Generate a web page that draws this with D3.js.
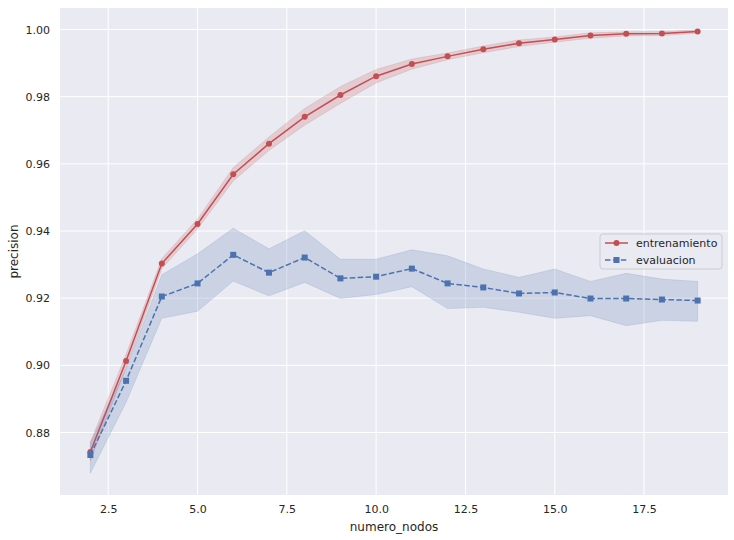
<!DOCTYPE html>
<html><head><meta charset="utf-8">
<script src="https://cdn.jsdelivr.net/npm/d3@7"></script>
<style>body{margin:0;background:#fff}text{font-family:"DejaVu Sans",sans-serif;fill:#262626}</style>
</head><body><svg id="c" width="734" height="540"></svg>
<script>
const nodos = [2,3,4,5,6,7,8,9,10,11,12,13,14,15,16,17,18,19];
const entrenamiento = [0.8742,0.9013,0.9303,0.9421,0.9569,0.9660,0.9740,0.9805,0.9861,0.9897,0.9920,0.9941,0.9959,0.9970,0.9982,0.9987,0.9988,0.9994];
const entrenamientoLow = [0.8715,0.8993,0.9288,0.9406,0.9549,0.9640,0.9715,0.9780,0.9841,0.9882,0.9910,0.9931,0.9949,0.9962,0.9974,0.9981,0.9982,0.9989];
const entrenamientoHigh = [0.8772,0.9033,0.9318,0.9436,0.9589,0.9680,0.9765,0.9830,0.9881,0.9912,0.9930,0.9951,0.9969,0.9978,0.9990,0.9993,0.9994,0.9999];
const evaluacion = [0.8733,0.8954,0.9205,0.9244,0.9329,0.9276,0.9321,0.9259,0.9264,0.9288,0.9244,0.9232,0.9214,0.9217,0.9199,0.9199,0.9196,0.9193];
const evaluacionLow = [0.8679,0.8890,0.9140,0.9161,0.9251,0.9207,0.9247,0.9199,0.9211,0.9234,0.9169,0.9173,0.9158,0.9140,0.9148,0.9118,0.9134,0.9131];
const evaluacionHigh = [0.8770,0.8990,0.9270,0.9332,0.9408,0.9347,0.9401,0.9316,0.9316,0.9344,0.9326,0.9287,0.9262,0.9287,0.9250,0.9274,0.9257,0.9250];
const xTicks = [2.5,5.0,7.5,10.0,12.5,15.0,17.5];
const yTicks = [0.88,0.90,0.92,0.94,0.96,0.98,1.00];

const svg = d3.select("#c");
const L=60,R=728,T=8,B=495;
const x = d3.scaleLinear().domain([1.15,19.85]).range([L,R]);
const y = d3.scaleLinear().domain([0.8614,1.0064]).range([B,T]);

svg.append("rect").attr("x",L).attr("y",T).attr("width",R-L).attr("height",B-T).attr("fill","#EAEAF2");
const g = svg.append("g");
xTicks.forEach(t=>g.append("line").attr("x1",x(t)).attr("x2",x(t)).attr("y1",T).attr("y2",B).attr("stroke","#fff").attr("stroke-width",1));
yTicks.forEach(t=>g.append("line").attr("x1",L).attr("x2",R).attr("y1",y(t)).attr("y2",y(t)).attr("stroke","#fff").attr("stroke-width",1));

const xa = svg.append("g").attr("transform",`translate(0,${B})`).call(d3.axisBottom(x).tickValues(xTicks).tickFormat(d3.format(".1f")).tickSize(0).tickPadding(10));
const ya = svg.append("g").attr("transform",`translate(${L},0)`).call(d3.axisLeft(y).tickValues(yTicks).tickFormat(d3.format(".2f")).tickSize(0).tickPadding(10));
[xa,ya].forEach(a=>{a.select(".domain").remove();a.selectAll("text").attr("font-size",11).attr("fill","#262626").attr("font-family","DejaVu Sans");});

svg.append("text").attr("x",(L+R)/2).attr("y",531).attr("text-anchor","middle").attr("font-size",12).text("numero_nodos");
svg.append("text").attr("transform",`translate(18,${(T+B)/2}) rotate(-90)`).attr("text-anchor","middle").attr("font-size",12).text("precision");

const red="#C44E52", blue="#4C72B0";
function series(vals,lo,hi,color,dash,shape){
  const area=d3.area().x((d,i)=>x(nodos[i])).y0((d,i)=>y(lo[i])).y1((d,i)=>y(hi[i]));
  g.append("path").datum(vals).attr("d",area).attr("fill",color).attr("fill-opacity",0.2).attr("stroke",color).attr("stroke-opacity",0.15).attr("stroke-width",1);
  const line=d3.line().x((d,i)=>x(nodos[i])).y(d=>y(d));
  g.append("path").datum(vals).attr("d",line).attr("fill","none").attr("stroke",color).attr("stroke-width",1.5).attr("stroke-dasharray",dash);
  vals.forEach((v,i)=>{
    if(shape==="circle") g.append("circle").attr("cx",x(nodos[i])).attr("cy",y(v)).attr("r",3).attr("fill",color);
    else g.append("rect").attr("x",x(nodos[i])-3).attr("y",y(v)-3).attr("width",6).attr("height",6).attr("fill",color);
  });
}
series(entrenamiento,entrenamientoLow,entrenamientoHigh,red,null,"circle");
series(evaluacion,evaluacionLow,evaluacionHigh,blue,"5.5,2.4","square");

// legend
const lg = svg.append("g");
lg.append("rect").attr("x",600).attr("y",234).attr("width",122).attr("height",35).attr("rx",3).attr("fill","#EAEAF2").attr("fill-opacity",0.8).attr("stroke","#cccccc").attr("stroke-width",1);
const items=[{n:"entrenamiento",c:red,d:null,s:"circle"},{n:"evaluacion",c:blue,d:"5.5,2.4",s:"square"}];
items.forEach((it,i)=>{
  const yy=243+i*17;
  lg.append("line").attr("x1",605).attr("x2",628).attr("y1",yy).attr("y2",yy).attr("stroke",it.c).attr("stroke-width",1.5).attr("stroke-dasharray",it.d);
  if(it.s==="circle") lg.append("circle").attr("cx",616.5).attr("cy",yy).attr("r",3).attr("fill",it.c);
  else lg.append("rect").attr("x",613.5).attr("y",yy-3).attr("width",6).attr("height",6).attr("fill",it.c);
  lg.append("text").attr("x",636).attr("y",yy+4).attr("font-size",11).text(it.n);
});
</script></body></html>
